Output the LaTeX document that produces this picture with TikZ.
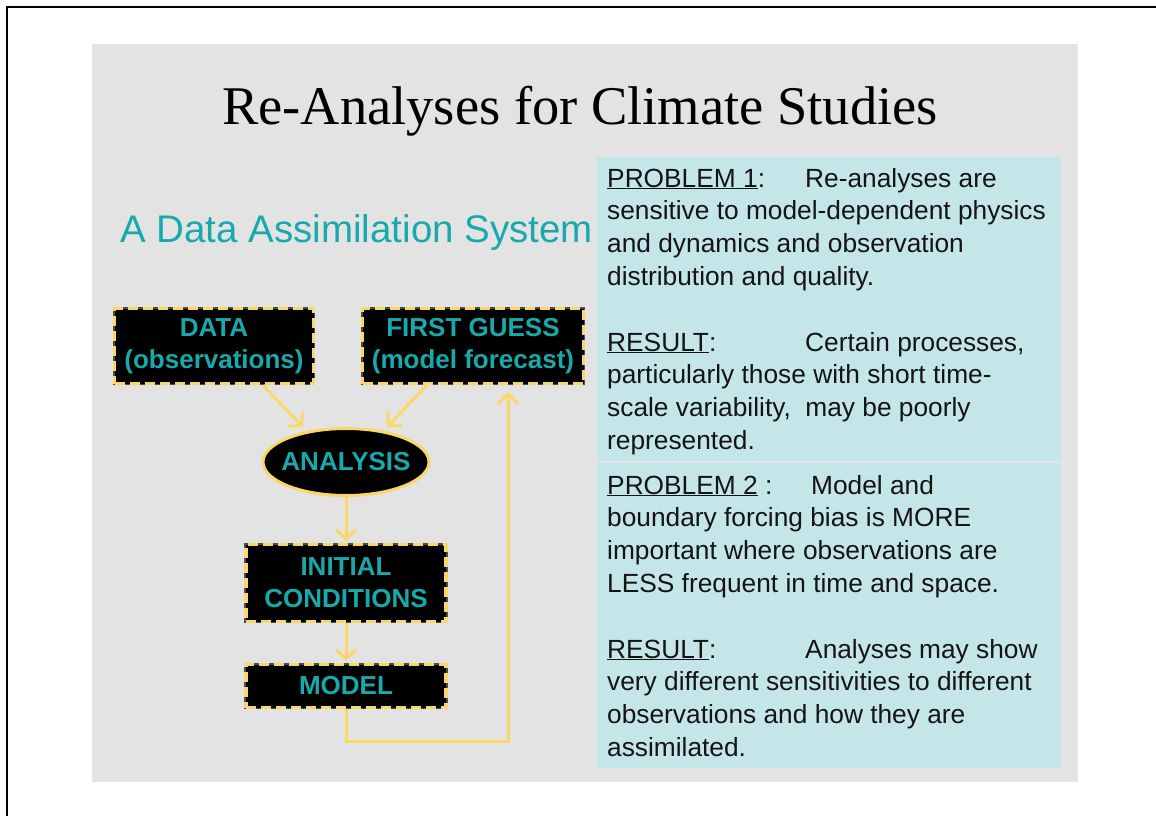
\documentclass[tikz,border=0pt]{standalone}
\usepackage{fontspec}
\setmainfont{Liberation Serif}
\setsansfont{Liberation Sans}
\usetikzlibrary{arrows.meta,shapes.geometric,calc}
\definecolor{panelgray}{HTML}{E3E3E3}
\definecolor{panelcyan}{HTML}{C5E6E8}
\definecolor{tealtxt}{HTML}{17A9AB}
\definecolor{flowyellow}{RGB}{250,215,105}
\definecolor{bodytxt}{HTML}{141414}
\begin{document}
\begin{tikzpicture}[x=1pt,y=-1pt,
  flowbox/.style={rectangle, fill=black, draw=flowyellow, line width=3.5pt,
    dash pattern=on 10pt off 5pt,
    preaction={draw=black!70, solid, line width=3.5pt},
    inner sep=0pt, align=center, text=tealtxt,
    font=\sffamily\bfseries\fontsize{26}{32}\selectfont},
  flowoval/.style={ellipse, fill=black, draw=flowyellow, line width=3pt,
    inner sep=0pt, text=tealtxt, minimum width=166pt, minimum height=67pt,
    font=\sffamily\bfseries\fontsize{26}{32}\selectfont},
  arr/.style={draw=flowyellow, line width=3pt,
    -{Straight Barb[length=9pt,width=20pt]}},
  ptext/.style={anchor=base west, inner sep=0pt, text=bodytxt,
    font=\sffamily\fontsize{26.3}{32}\selectfont}
]
\useasboundingbox (0,0) rectangle (1156,816);
\fill[white] (0,0) rectangle (1156,816);
% page frame (top and left edges)
\draw[line width=2.5pt] (7,816) -- (7,7) -- (1156,7);
% slide panel
\fill[panelgray] (92,44) rectangle (1078,782);
\fill[panelcyan] (597,157) rectangle (1061,461);
\fill[panelcyan] (597,463) rectangle (1061,768);

% titles
\node[anchor=base, inner sep=0pt, font=\fontsize{54.5}{60}\selectfont] (title) at (580,124) {Re-Analyses for Climate Studies};
\node[anchor=base west, inner sep=0pt, text=tealtxt, font=\sffamily\fontsize{38.5}{44}\selectfont] (subtitle) at (120,242) {A Data Assimilation System};

% flowchart
\node[flowbox, minimum width=199pt, minimum height=75pt] (data) at (214,346) {DATA\\(observations)};
\node[flowbox, minimum width=221pt, minimum height=75pt] (guess) at (473,346) {FIRST GUESS\\(model forecast)};
\node[flowoval] (analysis) at (346,462) {\makebox[100pt]{ANALYSIS}};
\node[flowbox, minimum width=200pt, minimum height=77pt] (init) at (346,583) {INITIAL\\CONDITIONS};
\node[flowbox, minimum width=200pt, minimum height=43pt] (model) at (346,686) {MODEL};

\draw[arr] ([xshift=49pt]data.south) -- ([xshift=-43pt]analysis.north);
\draw[arr] ([xshift=-46pt]guess.south) -- ([xshift=41pt]analysis.north);
\draw[arr] (analysis.south) -- ([yshift=2pt]init.north);
\draw[arr] (init.south) -- ([yshift=2pt]model.north);
\draw[arr] (model.south) -- ++(0,32) -| ([xshift=35pt,yshift=-7pt]guess.south);

% right panel text
\node[ptext] (p1a) at (607,187) {\makebox[198pt][l]{\underline{PROBLEM 1}:}Re-analyses are};
\node[ptext] (p1b) at (607,219.8) {sensitive to model-dependent physics};
\node[ptext] (p1c) at (607,252.6) {and dynamics and observation};
\node[ptext] (p1d) at (607,285.4) {distribution and quality.};
\node[ptext] (r1a) at (607,351) {\makebox[198pt][l]{\underline{RESULT}:}Certain processes,};
\node[ptext] (r1b) at (607,383.8) {particularly those with short time-};
\node[ptext] (r1c) at (607,416.6) {scale variability,\ \ may be poorly};
\node[ptext] (r1d) at (607,449.4) {represented.};
\node[ptext] (p2a) at (607,494) {\makebox[204pt][l]{\underline{PROBLEM 2} :}Model and};
\node[ptext] (p2b) at (607,526.8) {boundary forcing bias is MORE};
\node[ptext] (p2c) at (607,559.6) {important where observations are};
\node[ptext] (p2d) at (607,592.4) {LESS frequent in time and space.};
\node[ptext] (r2a) at (607,658) {\makebox[198pt][l]{\underline{RESULT}:}Analyses may show};
\node[ptext] (r2b) at (607,690.8) {very different sensitivities to different};
\node[ptext] (r2c) at (607,723.6) {observations and how they are};
\node[ptext] (r2d) at (607,756.4) {assimilated.};
\end{tikzpicture}
\end{document}
